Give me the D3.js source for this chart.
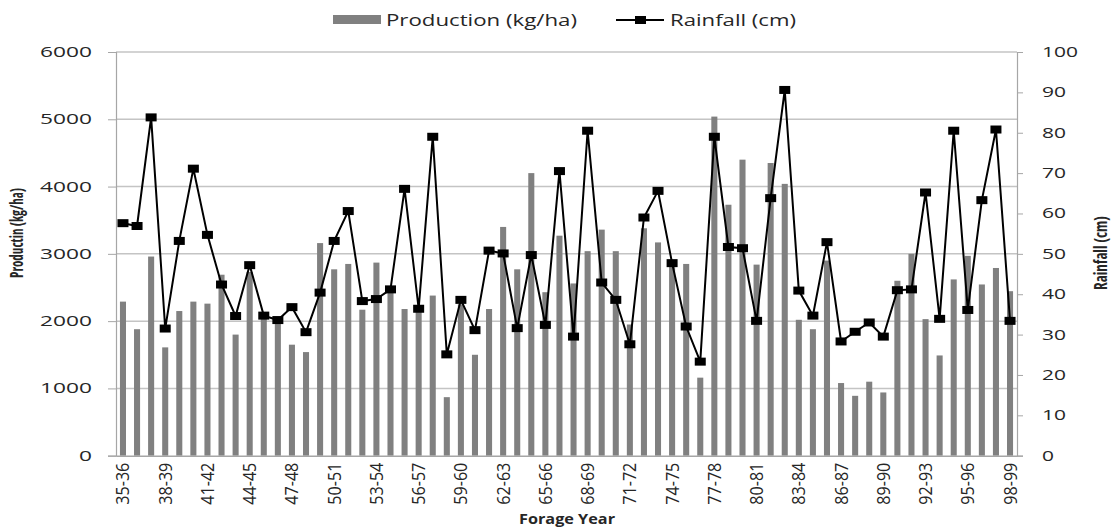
<!DOCTYPE html>
<html>
<head>
<meta charset="utf-8">
<script src="https://cdn.jsdelivr.net/npm/d3@7"></script>
<style>
  body { margin: 0; background: #fff; }
  svg { display: block; }
  .narrow { font-family: "Liberation Sans Narrow", "Arial Narrow", "Open Sans", sans-serif; font-stretch: condensed; }
  .sans { font-family: "Open Sans", "Noto Sans", sans-serif; }
</style>
</head>
<body>
<svg id="chart" width="1117" height="527"></svg>
<script>
// Forage years 1935-36 .. 1998-99
const years = [
  "35-36","36-37","37-38","38-39","39-40","40-41","41-42","42-43","43-44","44-45",
  "45-46","46-47","47-48","48-49","49-50","50-51","51-52","52-53","53-54","54-55",
  "55-56","56-57","57-58","58-59","59-60","60-61","61-62","62-63","63-64","64-65",
  "65-66","66-67","67-68","68-69","69-70","70-71","71-72","72-73","73-74","74-75",
  "75-76","76-77","77-78","78-79","79-80","80-81","81-82","82-83","83-84","84-85",
  "85-86","86-87","87-88","88-89","89-90","90-91","91-92","92-93","93-94","94-95",
  "95-96","96-97","97-98","98-99"
];

// Forage production, kg/ha
const production = [
  2290, 1880, 2960, 1610, 2150, 2290, 2260, 2690, 1800, 2730,
  2080, 2010, 1650, 1540, 3160, 2770, 2850, 2170, 2870, 2460,
  2180, 2200, 2380, 870, 2250, 1500, 2180, 3400, 2770, 4200,
  2430, 3270, 2560, 3040, 3360, 3040, 1950, 3380, 3170, 2850,
  2850, 1160, 5040, 3730, 4400, 2840, 4350, 4040, 2020, 1880,
  2900, 1080, 890, 1100, 940, 2600, 3000, 2030, 1490, 2620,
  2970, 2545, 2790, 2445
];

// Rainfall, cm
const rainfall = [
  57.6, 56.9, 83.8, 31.5, 53.2, 71.1, 54.7, 42.4, 34.6, 47.2,
  34.7, 33.6, 36.8, 30.6, 40.4, 53.2, 60.6, 38.3, 38.8, 41.2,
  66.1, 36.4, 79.0, 25.1, 38.6, 31.1, 50.8, 50.1, 31.6, 49.7,
  32.4, 70.5, 29.5, 80.5, 42.9, 38.6, 27.6, 59.0, 65.6, 47.7,
  32.0, 23.3, 79.0, 51.7, 51.4, 33.4, 63.8, 90.6, 40.9, 34.7,
  52.9, 28.3, 30.7, 33.0, 29.5, 41.0, 41.2, 65.2, 33.9, 80.5,
  36.1, 63.3, 80.8, 33.4
];

const leftTicks = [0, 1000, 2000, 3000, 4000, 5000, 6000];
const rightTicks = [0, 10, 20, 30, 40, 50, 60, 70, 80, 90, 100];
const labelledYears = years.filter((d, i) => i % 3 === 0);

const svg = d3.select("#chart");
const m = { left: 116, right: 1017, top: 52, bottom: 455.7 };

const x = d3.scaleBand().domain(years).range([m.left, m.right]).paddingInner(0.57).paddingOuter(0.28);
const yL = d3.scaleLinear().domain([0, 6000]).range([m.bottom, m.top]);
const yR = d3.scaleLinear().domain([0, 100]).range([m.bottom, m.top]);

const gridColor = "#c4c4c4";
const axisColor = "#a6a6a6";
const textColor = "#262626";

// horizontal gridlines
svg.append("g")
  .selectAll("line")
  .data(leftTicks.filter(d => d > 0))
  .join("line")
  .attr("x1", m.left).attr("x2", m.right)
  .attr("y1", d => yL(d)).attr("y2", d => yL(d))
  .attr("stroke", gridColor).attr("stroke-width", 1.5);

// production bars
svg.append("g")
  .selectAll("rect")
  .data(production)
  .join("rect")
  .attr("x", (d, i) => x(years[i]))
  .attr("width", x.bandwidth())
  .attr("y", d => yL(d))
  .attr("height", d => yL(0) - yL(d))
  .attr("fill", "#808080");

// left axis (wide digits)
const gl = svg.append("g").attr("transform", `translate(${m.left},0)`)
  .call(d3.axisLeft(yL).tickValues(leftTicks).tickSize(8).tickPadding(16).tickFormat(d3.format("d")));
gl.select(".domain").attr("stroke", axisColor).attr("stroke-width", 1.2);
gl.selectAll(".tick line").attr("stroke", axisColor);
gl.selectAll("text")
  .attr("class", "sans").attr("font-size", 14).attr("fill", textColor)
  .attr("textLength", d => String(d).length * 13)
  .attr("lengthAdjust", "spacingAndGlyphs");

// right axis
const gr = svg.append("g").attr("transform", `translate(${m.right},0)`)
  .call(d3.axisRight(yR).tickValues(rightTicks).tickSize(6).tickPadding(19));
gr.select(".domain").attr("stroke", axisColor).attr("stroke-width", 1.2);
gr.selectAll(".tick line").attr("stroke", axisColor);
gr.selectAll("text")
  .attr("class", "sans").attr("font-size", 14).attr("fill", textColor)
  .attr("textLength", d => String(d).length * 12)
  .attr("lengthAdjust", "spacingAndGlyphs");

// bottom axis, year labels stood on end
const gb = svg.append("g").attr("transform", `translate(0,${m.bottom})`)
  .call(d3.axisBottom(x).tickValues(labelledYears).tickSize(0).tickPadding(0));
gb.select(".domain").attr("stroke", axisColor).attr("stroke-width", 1.5);
gb.selectAll("text")
  .attr("class", "sans")
  .attr("font-size", 15)
  .attr("fill", textColor)
  .attr("transform", "scale(1.2,1) rotate(-90)")
  .attr("text-anchor", "end")
  .attr("dy", "0.36em")
  .attr("x", -7)
  .attr("y", 0)
  .attr("textLength", 42)
  .attr("lengthAdjust", "spacingAndGlyphs");

// rainfall line with square markers
const line = d3.line().x((d, i) => x(years[i]) + x.bandwidth() / 2).y(d => yR(d));
svg.append("path")
  .datum(rainfall)
  .attr("d", line)
  .attr("fill", "none")
  .attr("stroke", "#000")
  .attr("stroke-width", 2);

svg.append("g")
  .selectAll("rect")
  .data(rainfall)
  .join("rect")
  .attr("x", (d, i) => x(years[i]) + x.bandwidth() / 2 - 5.5)
  .attr("y", d => yR(d) - 4)
  .attr("width", 11)
  .attr("height", 8)
  .attr("fill", "#000");

// axis titles
svg.append("text")
  .attr("class", "narrow")
  .attr("transform", "translate(23,233) scale(1.3,1) rotate(-90)")
  .attr("text-anchor", "middle")
  .attr("font-size", 14).attr("font-weight", "bold").attr("fill", textColor)
  .attr("textLength", 90).attr("lengthAdjust", "spacingAndGlyphs")
  .text("Productin (kg/ha)");

svg.append("text")
  .attr("class", "narrow")
  .attr("transform", "translate(1107,253) scale(1.3,1) rotate(-90)")
  .attr("text-anchor", "middle")
  .attr("font-size", 14).attr("font-weight", "bold").attr("fill", textColor)
  .attr("textLength", 74).attr("lengthAdjust", "spacingAndGlyphs")
  .text("Rainfall (cm)");

svg.append("text")
  .attr("class", "sans")
  .attr("x", 567)
  .attr("y", 524)
  .attr("text-anchor", "middle")
  .attr("font-size", 15).attr("font-weight", "bold").attr("fill", textColor)
  .attr("textLength", 96).attr("lengthAdjust", "spacingAndGlyphs")
  .text("Forage Year");

// legend
const lg = svg.append("g");
lg.append("rect").attr("x", 333).attr("y", 15).attr("width", 48).attr("height", 9).attr("fill", "#808080");
lg.append("text").attr("class", "sans").attr("x", 386).attr("y", 26)
  .attr("font-size", 17).attr("fill", textColor)
  .attr("textLength", 191).attr("lengthAdjust", "spacingAndGlyphs")
  .text("Production (kg/ha)");
lg.append("line").attr("x1", 616).attr("x2", 664).attr("y1", 20).attr("y2", 20)
  .attr("stroke", "#000").attr("stroke-width", 2);
lg.append("rect").attr("x", 635).attr("y", 16).attr("width", 11).attr("height", 8).attr("fill", "#000");
lg.append("text").attr("class", "sans").attr("x", 670).attr("y", 26)
  .attr("font-size", 17).attr("fill", textColor)
  .attr("textLength", 126).attr("lengthAdjust", "spacingAndGlyphs")
  .text("Rainfall (cm)");
</script>
</body>
</html>
